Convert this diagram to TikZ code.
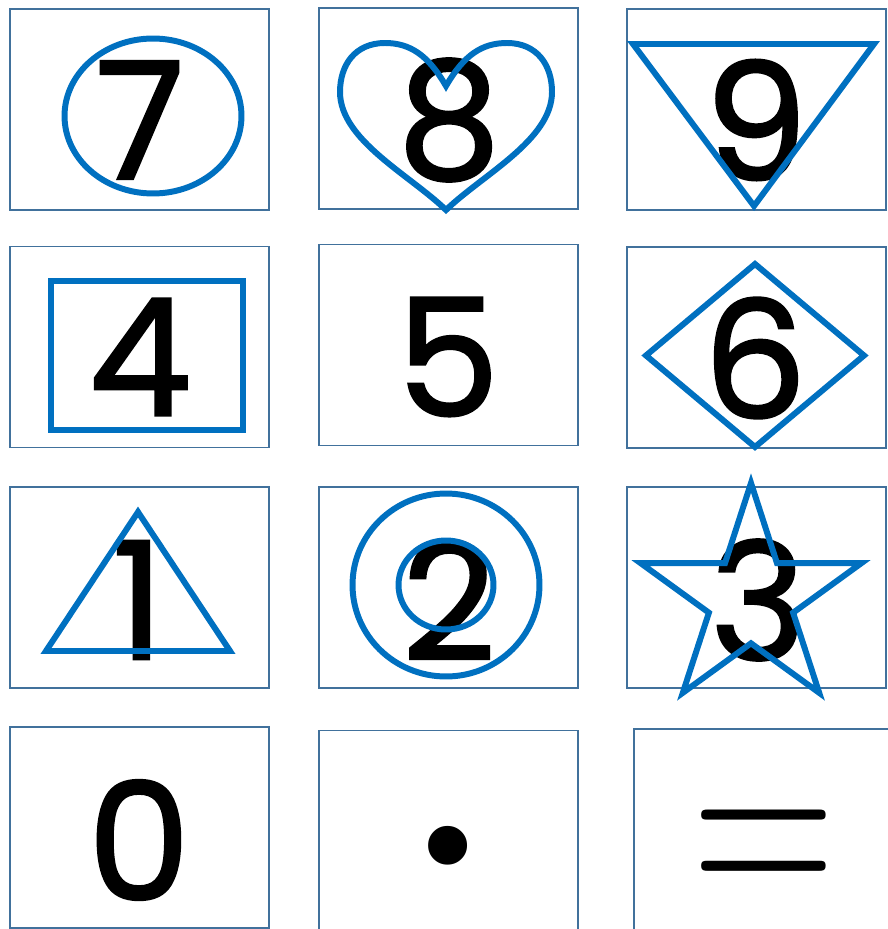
\documentclass[tikz,border=0pt]{standalone}
\usepackage{fontspec}
\newfontfamily\keyfont{Poppins}[FakeBold=1.5]
\newfontfamily\signfont{Poppins}
\usepackage{tikz}
\usetikzlibrary{shapes.geometric, positioning, calc}
\definecolor{keyblue}{RGB}{65,113,156}
\definecolor{markblue}{RGB}{0,112,192}

\begin{document}
\begin{tikzpicture}[
    x=0.02cm, y=-0.02cm,
    key/.style={rectangle, draw=keyblue, line width=1.1pt, minimum width=5.18cm,
                minimum height=4.02cm, inner sep=0pt},
    digit/.style={inner sep=0pt, font=\keyfont\fontsize{93}{93}\selectfont},
    sign/.style={inner sep=0pt, font=\fontsize{#1}{#1}\selectfont},
    outline/.style={draw=markblue, line width=3.4pt, line join=miter, inner sep=0pt},
]
    \useasboundingbox (0,0) rectangle (887,929);

    % keypad frames
    \node[key] (k7)   at (139.5,109.5) {};
    \node[key] (k8)   at (448.5,108.5) {};
    \node[key] (k9)   at (756.5,109.5) {};
    \node[key] (k4)   at (139.5,347)   {};
    \node[key] (k5)   at (448.5,345)   {};
    \node[key] (k6)   at (756.5,347.5) {};
    \node[key] (k1)   at (139.5,587.5) {};
    \node[key] (k2)   at (448.5,587.5) {};
    \node[key] (k3)   at (756.5,587.5) {};
    \node[key] (k0)   at (139.5,827.5) {};
    \node[key] (kdot) at (448.5,831)   {};
    \node[key] (keq)  at (763.5,829.5) {};

    % digits
    \node[digit] (d7)   at (140,120) {7};
    \node[digit] (d8)   at (449,120) {8};
    \node[digit] (d9)   at (756,120) {9};
    \node[digit] (d4)   at (140,357) {4};
    \node[digit] (d5)   at (448,357) {5};
    \node[digit] (d6)   at (755,358) {6};
    \node[digit] (d1)   at (138,600) {1};
    \node[digit] (d2)   at (449,600) {2};
    \node[digit] (d3)   at (758,600) {3};
    \node[digit] (d0)   at (139,840) {0};
    \node[sign=90]  (ddot) at (448,862) {\signfont •};
    \node[sign=113] (deq)  at (764,861) {\scalebox{1}[1.45]{=}};

    % marks over the keys
    \node[outline, ellipse, minimum width=3.54cm, minimum height=3.1cm] (ring7) at (153,116) {};
    \draw[outline] (446,86) .. controls (428,55) and (410,43) .. (385,43)
        .. controls (355,43) and (340,65) .. (340,92)
        .. controls (340,140) and (410,175) .. (446,210)
        .. controls (482,175) and (552,140) .. (552,92)
        .. controls (552,65) and (537,43) .. (507,43)
        .. controls (482,43) and (464,55) .. cycle;
    \draw[outline] (633,44) -- (874,44) -- (754,206) -- cycle;
    \node[outline, rectangle, minimum width=3.84cm, minimum height=2.98cm] (box4) at (147,355.5) {};
    \draw[outline] (755,264) -- (864,355.5) -- (755,447) -- (646,355.5) -- cycle;
    \draw[outline] (138,512) -- (230,651) -- (46,651) -- cycle;
    \node[outline, ellipse, minimum width=3.74cm, minimum height=3.66cm] (ring2) at (446,585) {};
    \node[outline, ellipse, minimum width=1.9cm, minimum height=1.78cm] (dot2) at (446,585) {};
    \draw[outline] (751,483) -- (777,563.2) -- (861.3,563.2) -- (793.1,612.7)
        -- (819.2,692.8) -- (751,643.3) -- (682.8,692.8) -- (708.9,612.7)
        -- (640.7,563.2) -- (725,563.2) -- cycle;
\end{tikzpicture}
\end{document}
